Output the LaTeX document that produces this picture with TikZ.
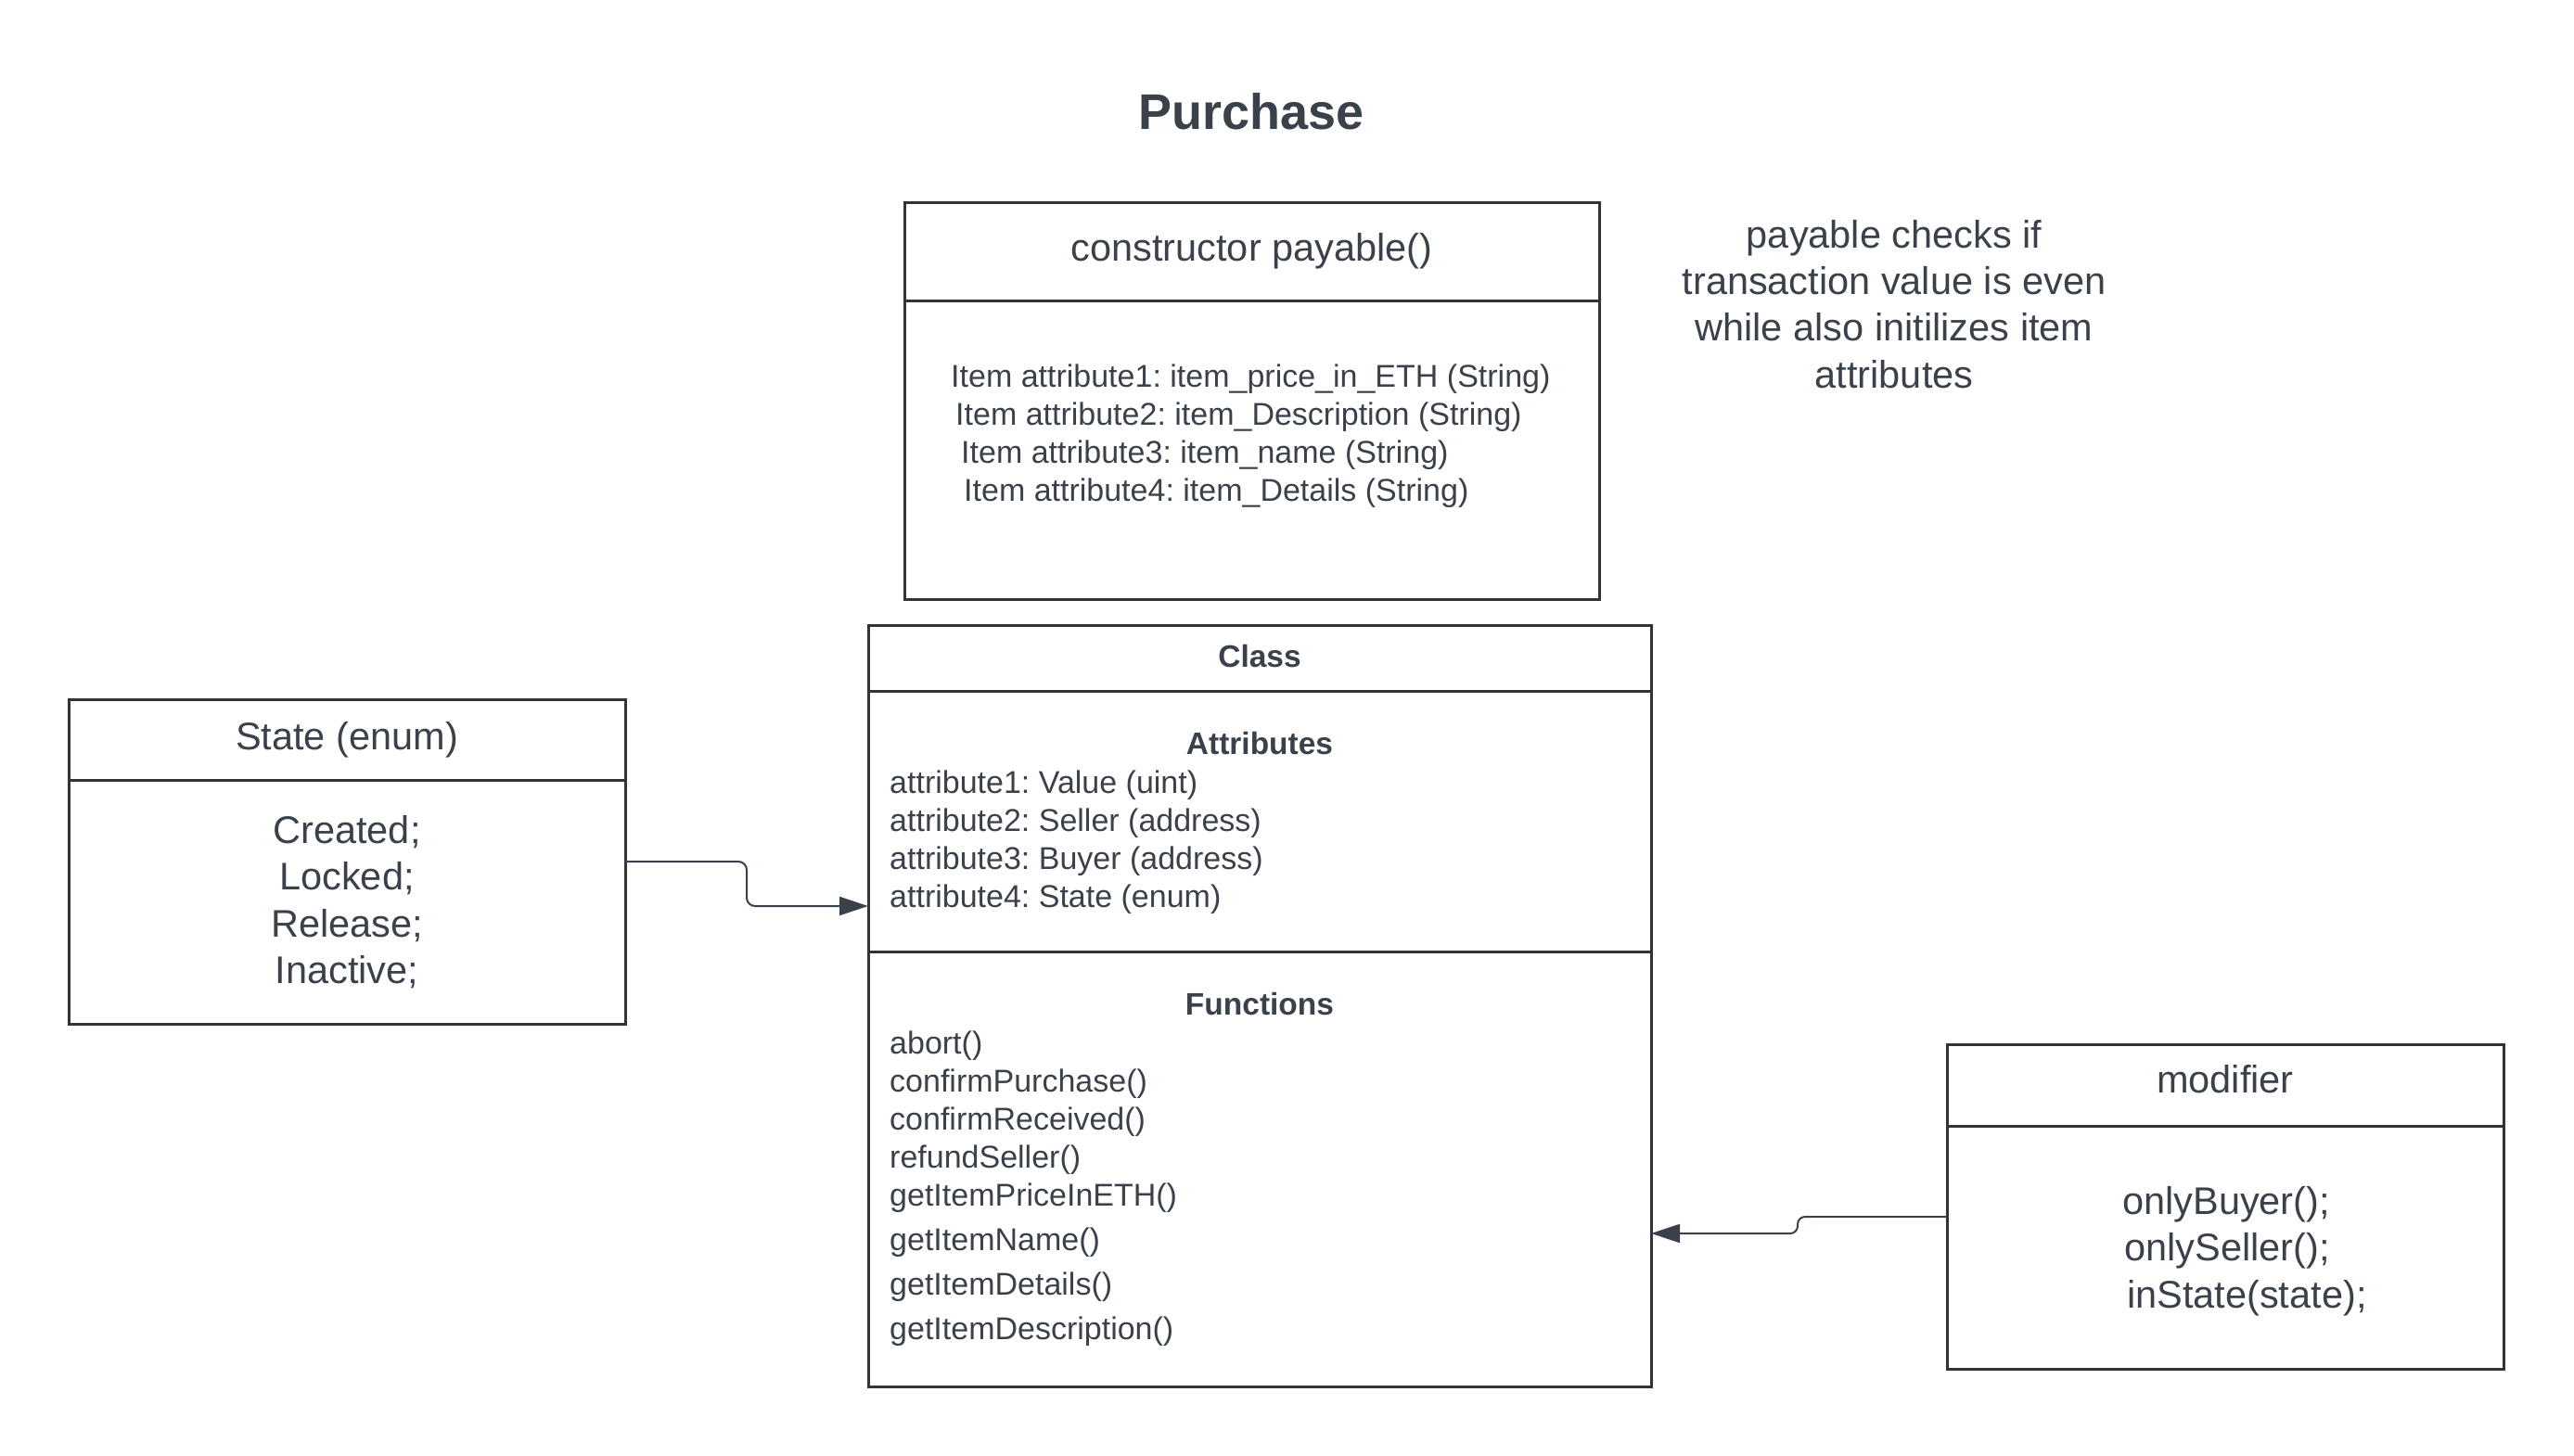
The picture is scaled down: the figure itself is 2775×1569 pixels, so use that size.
\documentclass[tikz,border=0pt]{standalone}
\usepackage{fontspec}
\setmainfont{Liberation Sans}
\usetikzlibrary{arrows.meta, positioning, calc}

\definecolor{inkgray}{HTML}{3A414A}
\definecolor{linegray}{HTML}{333333}

\begin{document}
\frenchspacing
\begin{tikzpicture}[
        x=1pt, y=-1pt,
        % Box section
        section/.style={
                rectangle,
                draw=linegray,
                line width=3pt,
                inner sep=0pt,
                outer sep=0pt,
                anchor=north west,
                text=inkgray,
                font=\fontsize{41.5}{50}\selectfont
            },
        % Large text
        bigtext/.style={
                text=inkgray,
                inner sep=0pt,
                font=\fontsize{41.5}{50.3}\selectfont
            },
        % Small text
        smalltext/.style={
                text=inkgray,
                inner sep=0pt,
                align=left,
                anchor=west,
                font=\fontsize{34}{41}\selectfont
            },
        % Bold heading
        heading/.style={
                text=inkgray,
                inner sep=0pt,
                font=\bfseries\fontsize{33.5}{41}\selectfont
            },
        % Connector
        flow/.style={
                draw=inkgray,
                line width=2pt,
                rounded corners=9pt,
                -{Triangle[length=31pt, width=20pt]}
            }
    ]

    \useasboundingbox (0,0) rectangle (2775,1569);

    % TITLE
    \node[text=inkgray, font=\bfseries\fontsize{54}{64}\selectfont] (title) at (1349,120) {Purchase};

    % CONSTRUCTOR
    \node[section, minimum width=749pt, minimum height=106pt] (ctorhead) at (975,218) {constructor payable()};
    \node[section, minimum width=749pt, minimum height=322pt] (ctorbody) at (ctorhead.south west) {};
    \node[smalltext] (items) at (1025,470.5) {
        Item attribute1: item\_price\_in\_ETH (String)\\
        \hspace*{5pt}Item attribute2: item\_Description (String)\\
        \hspace*{11pt}Item attribute3: item\_name (String)\\
        \hspace*{14pt}Item attribute4: item\_Details (String)
    };

    % Note
    \node[bigtext, align=center] (note) at (2042,328) {
        payable checks if\\
        transaction value is even\\
        while also initilizes item\\
        attributes
    };

    % CLASS
    \node[section, heading, minimum width=844pt, minimum height=71pt] (classhead) at (936,674) {\raisebox{5pt}{Class}};
    \node[section, minimum width=844pt, minimum height=281pt] (attrs) at (classhead.south west) {};
    \node[section, minimum width=844pt, minimum height=469pt] (funcs) at (attrs.south west) {};

    \node[heading] (attrtitle) at (1358,802) {Attributes};
    \node[smalltext] (attrlist) at (959,908.5) {
        attribute1: Value (uint)\\
        attribute2: Seller (address)\\
        attribute3: Buyer (address)\\
        attribute4: State (enum)
    };

    \node[heading] (functitle) at (1358,1083) {Functions};
    \node[smalltext] (funclist) at (959,1282) {
        abort()\\
        confirmPurchase()\\
        confirmReceived()\\
        refundSeller()\\
        getItemPriceInETH()\\[7pt]
        getItemName()\\[7pt]
        getItemDetails()\\[7pt]
        getItemDescription()
    };

    % STATE
    \node[section, minimum width=600pt, minimum height=87pt] (statehead) at (74,754) {\raisebox{9pt}{State (enum)}};
    \node[section, minimum width=600pt, minimum height=263pt] (statebody) at (statehead.south west) {};
    \node[bigtext, align=center] (statelist) at (statebody.center) {
        Created;\\
        Locked;\\
        Release;\\
        Inactive;
    };

    % MODIFIER
    \node[section, minimum width=600pt, minimum height=88pt] (modhead) at (2099,1126) {\raisebox{13pt}{modifier}};
    \node[section, minimum width=600pt, minimum height=262pt] (modbody) at (modhead.south west) {};
    \node[bigtext, align=left, anchor=west] (modlist) at (2288,1349) {
        onlyBuyer();\\
        \hspace*{2pt}onlySeller();\\
        \hspace*{5pt}inState(state);
    };

    % CONNECTORS
    \draw[flow] ($(statebody.north east)+(0,88)$) -- ++(131,0) -- ++(0,48) -- ($(attrs.west)+(0,91.5)$);
    \draw[flow, rounded corners=8pt] ($(modhead.south west)+(0,98)$) -- ++(-161,0) -- ++(0,18) -- ($(funcs.east)+(0,69.5)$);

\end{tikzpicture}
\end{document}
